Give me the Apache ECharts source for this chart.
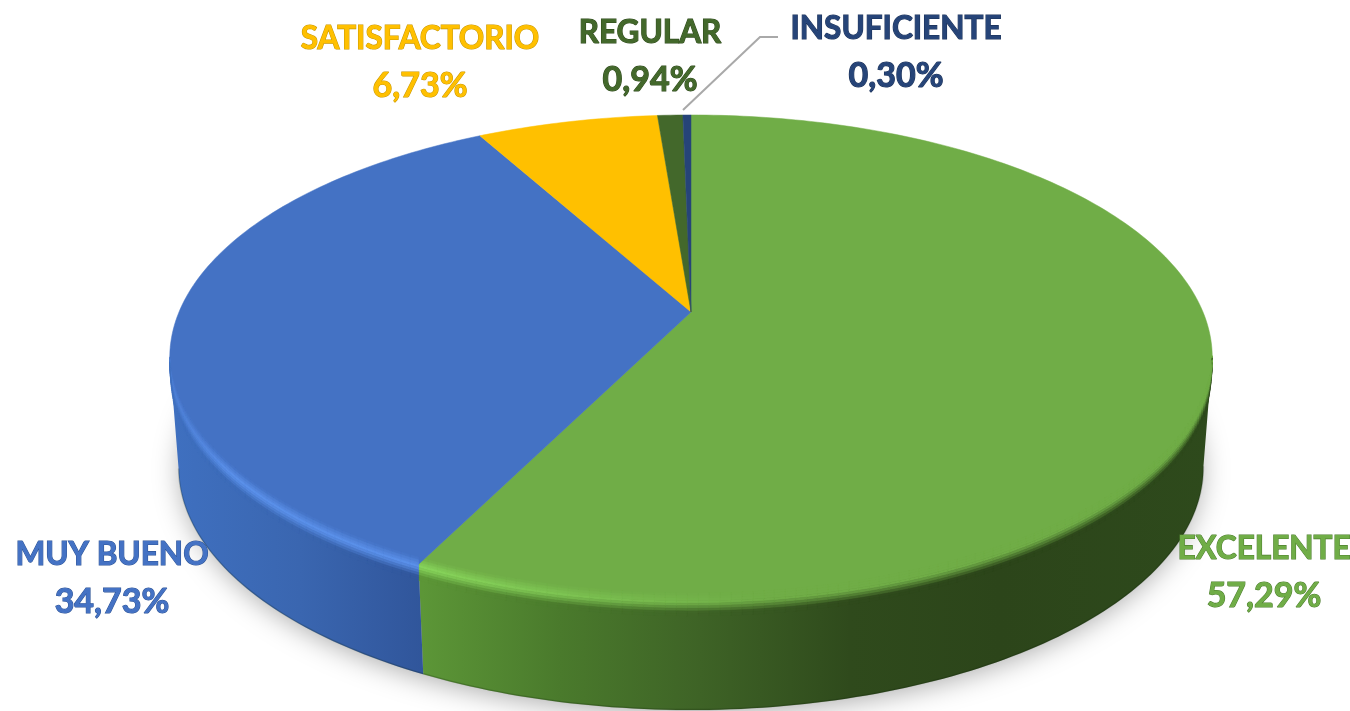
<!DOCTYPE html>
<html><head><meta charset="utf-8">
<style>html,body{margin:0;padding:0;background:#fff}#c{width:1350px;height:711px}</style>
<script src="https://cdn.jsdelivr.net/npm/echarts@6/dist/echarts.min.js"></script>
</head><body><div id="c"></div>
<script>
// ---- data ----
const categories = ['EXCELENTE','MUY BUENO','SATISFACTORIO','REGULAR','INSUFICIENTE'];
const values = [57.29, 34.73, 6.73, 0.94, 0.30];
// ---- style / layout ----
const topColors = ['#70ad47','#4472c4','#ffc000','#43682b','#264478'];
const textStrokes = ['#4d7f2e','#2f5597','#c99700','#2f4a1c','#1a3057'];
const labelCenters = [[1264,549],[112,555],[420,39],[650,33],[896,29]];
const lineGap = 47;
const leader = [[683,110],[760,37],[778,37]];
const wallStops = [
  [[422,'#5c9637'],[560,'#4a7a2c'],[700,'#3e6326'],[850,'#2f4a1c'],[1000,'#2c451a'],[1215,'#2e4a1c']],
  [[170,'#3f70c0'],[300,'#3a66b0'],[427,'#30559a']],
];
const cx=691, cy=312, A=512, B=234, K=0.1876, DEPTH=110, SX=0.983;

const total = values.reduce((a,b)=>a+b,0);
let acc=0;
const rows = values.map((v,i)=>{const r=[i,v,acc/total,(acc+v)/total];acc+=v;return r;});

function proj(f,dy,sx){
  const th=2*Math.PI*f,u=Math.sin(th),v=-Math.cos(th),d=1-K*v;
  return [cx+(sx||1)*A*u/d, cy+B*v/d+(dy||0)];
}
function isFront(f){return -Math.cos(2*Math.PI*f)>=K-0.01;}
function hex(c){return [1,3,5].map(i=>parseInt(c.substr(i,2),16));}
function mix(a,b,t){return a.map((x,i)=>x+(b[i]-x)*t);}
function css(c){return 'rgb('+c.map(Math.round).join(',')+')';}
function wallColor(s,x){
  const st=wallStops[s];
  if(x<=st[0][0])return hex(st[0][1]);
  for(let i=1;i<st.length;i++) if(x<=st[i][0])
    return mix(hex(st[i-1][1]),hex(st[i][1]),(x-st[i-1][0])/(st[i][0]-st[i-1][0]));
  return hex(st[st.length-1][1]);
}
function highlight(s,x){
  if(s===1) return [hex('#5c92ec'), 0.45+0.55*Math.min(1,Math.max(0,(x-170)/60))];
  return [hex('#88d65c'), Math.max(0,1-(x-425)/340)];
}
function arc(f0,f1,front){
  const n=Math.max(2,Math.ceil((f1-f0)*360)),p=[];
  for(let i=0;i<=n;i++){const f=f0+(f1-f0)*i/n; if(!front||isFront(f))p.push(f);}
  return p;
}
const BAND=[-7,16], STRIPS=9;
function rimBand(s,top,f0,f1){
  const fs=arc(f0,f1,true),out=[],T=hex(top);
  for(let i=0;i<fs.length-1;i++){
    const a=proj(fs[i]),b=proj(fs[i+1]);
    const mx=(a[0]+b[0])/2,W=wallColor(s,mx),h=highlight(s,mx),H=mix(T,h[0],h[1]);
    const edge=Math.min(1,Math.abs(-Math.cos(2*Math.PI*fs[i])-K)/0.15+0.15);
    for(let j=0;j<STRIPS;j++){
      const t=(j+.5)/STRIPS,c=t<.42?mix(T,H,t/.42):mix(H,W,Math.min(1,(t-.42)/.42));
      const o0=(BAND[0]+(BAND[1]-BAND[0])*j/STRIPS)*edge,o1=(BAND[0]+(BAND[1]-BAND[0])*(j+1)/STRIPS)*edge;
      out.push({type:'polygon',shape:{points:[[a[0],a[1]+o0],[b[0],b[1]+o0],[b[0],b[1]+o1],[a[0],a[1]+o1]]},
        style:{fill:css(c),stroke:css(c),lineWidth:.6}});
    }
  }
  return out;
}
const chart=echarts.init(document.getElementById('c'),null,{renderer:'canvas'});
chart.setOption({
  animation:false,
  backgroundColor:'#fff',
  series:[
    { // soft ground shadow
      type:'custom',coordinateSystem:'none',z:1,silent:true,data:[[0]],
      renderItem(){
        const pts=arc(0,1).map(f=>proj(f,DEPTH-3,SX*0.995));
        return {type:'polygon',shape:{points:pts},
          style:{fill:'#bbbbbb',shadowColor:'rgba(0,0,0,0.34)',shadowBlur:28,shadowOffsetY:6}};
      }
    },
    { // side walls
      type:'custom',coordinateSystem:'none',z:2,silent:true,data:rows.slice(0,2),
      renderItem(p,api){
        const s=api.value(0),f0=api.value(2),f1=api.value(3),fs=arc(f0,f1,true);
        const pts=fs.map(f=>proj(f)).concat(fs.slice().reverse().map(f=>proj(f,DEPTH,SX)));
        const st=wallStops[s],x0=st[0][0],x1=st[st.length-1][0];
        const lo=fs.map(f=>proj(f,DEPTH-0.5,SX));
        return {type:'group',children:[
          {type:'polygon',shape:{points:pts},style:{
            fill:{type:'linear',x:x0,y:0,x2:x1,y2:0,global:true,
              colorStops:st.map(e=>({offset:(e[0]-x0)/(x1-x0),color:e[1]}))}}},
          {type:'polyline',shape:{points:lo},style:{fill:null,stroke:'rgba(15,30,10,0.22)',lineWidth:1.5}}
        ]};
      }
    },
    { // top surface with rim bevel
      type:'custom',coordinateSystem:'none',z:3,silent:true,data:rows,
      renderItem(p,api){
        const i=api.value(0),f0=api.value(2),f1=api.value(3),c=topColors[i];
        const pts=[[cx,cy]].concat(arc(f0,f1).map(f=>proj(f)));
        const kids=[{type:'polygon',shape:{points:pts},style:{fill:c,stroke:c,lineWidth:.5}}];
        if(i<2) kids.push.apply(kids,rimBand(i,c,f0,f1));
        return {type:'group',children:kids};
      }
    },
    { // labels
      type:'custom',coordinateSystem:'none',z:5,silent:true,data:rows,
      renderItem(p,api){
        const i=api.value(0),c=labelCenters[i],col=topColors[i];
        const st={fill:col,stroke:textStrokes[i],lineWidth:1.1,align:'center',verticalAlign:'middle'};
        return {type:'group',children:[
          {type:'text',x:c[0],y:c[1],style:Object.assign({text:categories[i],font:'bold 31.5px Lato'},st)},
          {type:'text',x:c[0],y:c[1]+lineGap,style:Object.assign({text:api.value(1).toFixed(2).replace('.',',')+'%',font:'bold 34px Lato'},st)}
        ]};
      }
    },
    { // leader line
      type:'custom',coordinateSystem:'none',z:4,silent:true,data:[[0]],
      renderItem(){return {type:'polyline',shape:{points:leader},style:{fill:null,stroke:'#a9a9a9',lineWidth:2}};}
    }
  ]
});
</script></body></html>
